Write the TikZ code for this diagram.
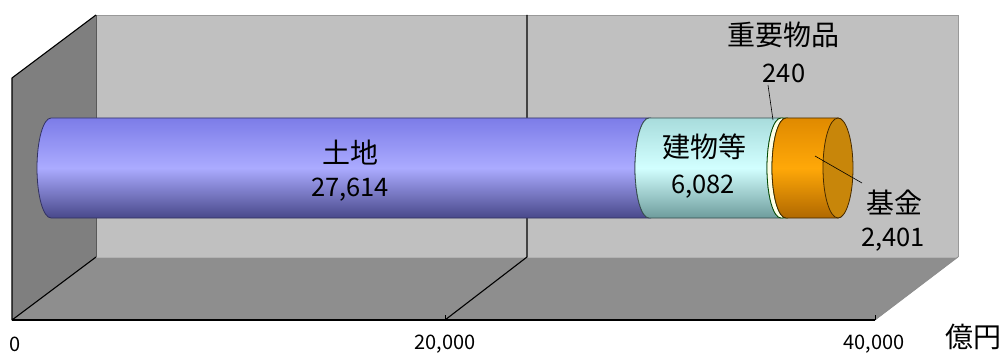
\documentclass[tikz,border=0pt]{standalone}
\usepackage{fontspec}
\setmainfont{Noto Sans CJK JP}
\definecolor{wallback}{HTML}{C0C0C0}
\definecolor{floorc}{HTML}{8E8E8E}
\definecolor{leftwall}{HTML}{7F7F7F}
\definecolor{landtop}{HTML}{7C7CE8}
\definecolor{landmid}{HTML}{ABABFF}
\definecolor{landbot}{HTML}{48488A}
\definecolor{bldtop}{HTML}{A8DCDC}
\definecolor{bldmid}{HTML}{D2FFFF}
\definecolor{bldbot}{HTML}{6E9C9C}
\definecolor{fundtop}{HTML}{E08A00}
\definecolor{fundmid}{HTML}{FFA808}
\definecolor{fundbot}{HTML}{B06800}
\definecolor{capc}{HTML}{C8860A}
\definecolor{impc}{HTML}{FFFFE8}
\begin{document}
\begin{tikzpicture}[x=1pt,y=1pt,
  lbl/.style={font=\fontsize{28}{32}\selectfont, inner sep=0pt, anchor=center},
  numlbl/.style={font=\fontsize{25.5}{30}\selectfont, inner sep=0pt, anchor=center},
  axlbl/.style={font=\fontsize{20}{24}\selectfont, inner sep=0pt, anchor=center},
  frame/.style={draw=black, line width=1.1pt, line join=round},
  leader/.style={draw=black, line width=0.6pt},
  cylseg/.style={line width=0.8pt, draw=#1}
]
\useasboundingbox (0,0) rectangle (1004,354);
% walls
\fill[wallback] (96,97) rectangle (958,339);
\draw[gray!80, line width=0.8pt] (96,339) -- (958,339) -- (958,97);
\fill[floorc] (12,34) -- (96,97) -- (958,97) -- (875,34) -- cycle;
\draw[gray!60, line width=0.8pt] (96,97) -- (958,97);
\draw[gray!90, line width=0.8pt] (875,34) -- (958,97);
\fill[leftwall] (12,34) -- (96,97) -- (96,339) -- (12,276) -- cycle;
\draw[gray!70!black, line width=0.6pt] (96,97) -- (96,339);
\draw[frame] (96,97) -- (12,34) -- (12,276) -- (96,339);
\draw[frame] (12,34) -- (875,34);
% grid line at 20,000
\draw[frame] (527,339) -- (527,97) -- (445,34);
\draw[line width=0.5pt] (445,34) -- (445,39);
\draw[line width=0.5pt] (875,34) -- (875,39);
% cylinder segments
\shadedraw[cylseg=landbot!70!black, top color=landtop, bottom color=landbot, middle color=landmid]
  (51,236) arc[start angle=90,end angle=270,x radius=14,y radius=50] -- (649,136)
  arc[start angle=270,end angle=90,x radius=14,y radius=50] -- cycle;
\shadedraw[cylseg=bldbot!50!black, top color=bldtop, bottom color=bldbot, middle color=bldmid]
  (649,236) arc[start angle=90,end angle=270,x radius=14,y radius=50] -- (781,136)
  arc[start angle=270,end angle=90,x radius=14,y radius=50] -- cycle;
\filldraw[cylseg=black!70!green, fill=impc]
  (781,236) arc[start angle=90,end angle=270,x radius=14,y radius=50] -- (786,136)
  arc[start angle=270,end angle=90,x radius=14,y radius=50] -- cycle;
\shadedraw[cylseg=fundbot!40!black, top color=fundtop, bottom color=fundbot, middle color=fundmid]
  (786,236) arc[start angle=90,end angle=270,x radius=14,y radius=50] -- (838,136)
  arc[start angle=-90,end angle=90,x radius=14,y radius=50] -- cycle;
\filldraw[cylseg=fundbot!40!black, fill=capc] (838,186) ellipse[x radius=15,y radius=50];
% labels
\node[lbl] (land) at (350,201) {土地};
\node[numlbl] (landv) at (350,164) {27,614};
\node[lbl] (bld) at (704,207) {建物等};
\node[numlbl] (bldv) at (703,167) {6,082};
\node[lbl] (imp) at (783,319) {重要物品};
\node[numlbl] (impv) at (784,281) {240};
\node[lbl] (fund) at (894,152) {基金};
\node[numlbl] (fundv) at (893,114) {2,401};
\node[axlbl] (a0) at (15,10) {0};
\node[axlbl] (a20) at (445,10) {20,000};
\node[axlbl] (a40) at (874,10) {40,000};
\node[lbl] (unit) at (973,17) {億円};
% leaders
\coordinate (impP) at (773,234);
\coordinate (impQ) at (768,269);
\draw[leader] (impQ) -- (impP);
\coordinate (fundP) at (815,198);
\coordinate (fundQ) at (862,171);
\draw[leader] (fundP) -- (fundQ);
\end{tikzpicture}
\end{document}
